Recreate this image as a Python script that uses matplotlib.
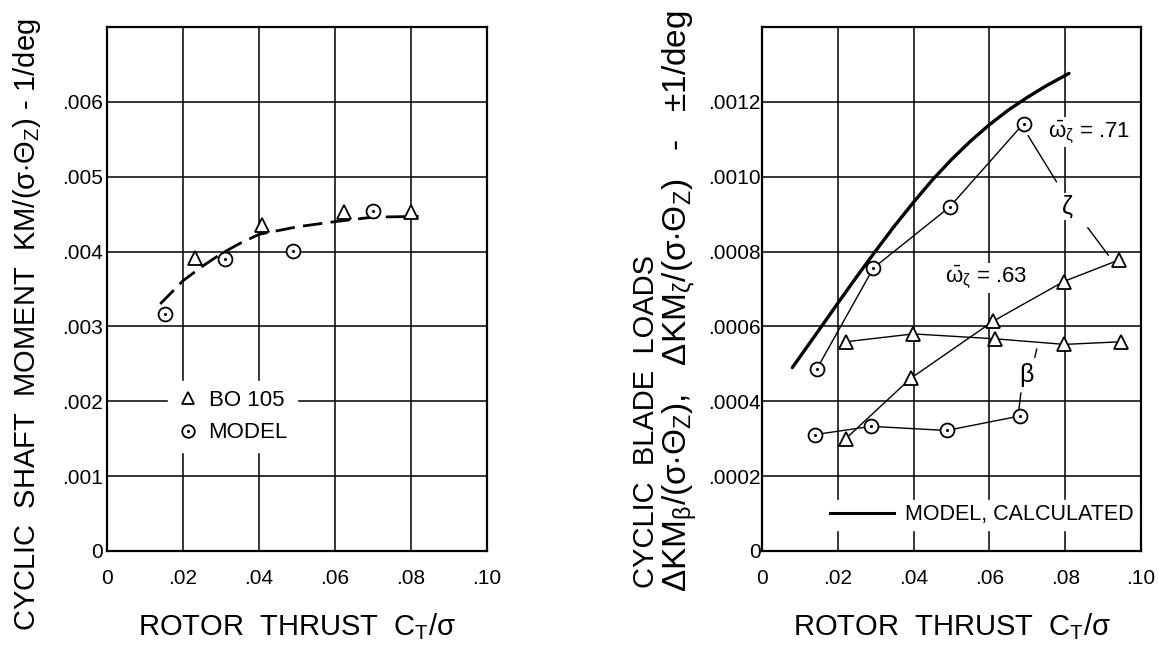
import matplotlib
matplotlib.use('Agg')
import matplotlib.pyplot as plt
from matplotlib.lines import Line2D

plt.rcParams['font.family'] = ['Liberation Sans', 'DejaVu Sans']
plt.rcParams['mathtext.fontset'] = 'custom'
plt.rcParams['mathtext.rm'] = 'Liberation Sans'
plt.rcParams['mathtext.it'] = 'Liberation Sans'
plt.rcParams['mathtext.bf'] = 'Liberation Sans:bold'

# ---- left panel: cyclic shaft moment
bo105_ct = [0.0231, 0.0408, 0.0624, 0.0801]
bo105_km = [0.00392, 0.00436, 0.00453, 0.00453]
model_ct = [0.0153, 0.031, 0.0489, 0.070]
model_km = [0.00317, 0.0039, 0.00401, 0.00454]
fit_ct = [0.014, 0.02, 0.025, 0.03, 0.035, 0.04, 0.05, 0.06, 0.07, 0.082]
fit_km = [0.0033, 0.00361, 0.0038, 0.00397, 0.00411, 0.00423, 0.00433, 0.0044, 0.00446, 0.00447]

# ---- right panel: cyclic blade loads
calc_ct = [0.008, 0.015, 0.02, 0.025, 0.03, 0.035, 0.04, 0.045, 0.05,
           0.055, 0.06, 0.065, 0.07, 0.075, 0.081]
calc_km = [0.00049, 0.00059, 0.000662, 0.000733, 0.000802, 0.000869, 0.000932, 0.000992,
           0.001046, 0.001095, 0.001139, 0.001178, 0.001212, 0.001243, 0.001276]
zeta_model_ct = [0.0145, 0.0294, 0.0496, 0.069]
zeta_model_km = [0.000487, 0.000756, 0.00092, 0.001142]
zeta_bo_ct = [0.0221, 0.0392, 0.061, 0.0796, 0.0943]
zeta_bo_km = [0.0003, 0.000461, 0.000614, 0.00072, 0.000778]
beta_model_ct = [0.014, 0.0288, 0.0487, 0.0682]
beta_model_km = [0.000311, 0.000333, 0.000322, 0.000361]
beta_bo_ct = [0.0221, 0.0399, 0.0614, 0.0798, 0.0947]
beta_bo_km = [0.000559, 0.00058, 0.000567, 0.000552, 0.000559]

x_ticks = [0, 0.02, 0.04, 0.06, 0.08, 0.10]
x_ticklabels = ['0', '.02', '.04', '.06', '.08', '.10']
left_yticks = [0, 0.001, 0.002, 0.003, 0.004, 0.005, 0.006]
left_yticklabels = ['0', '.001', '.002', '.003', '.004', '.005', '.006']
right_yticks = [0, 0.0002, 0.0004, 0.0006, 0.0008, 0.0010, 0.0012]
right_yticklabels = ['0', '.0002', '.0004', '.0006', '.0008', '.0010', '.0012']

TICK_FS = 15
LABEL_FS = 21


def style_axes(ax, ymax, yticks, yticklabels, ypad):
    ax.set_xlim(0, 0.10)
    ax.set_ylim(0, ymax)
    ax.set_xticks(x_ticks)
    ax.set_xticklabels(x_ticklabels)
    ax.set_yticks(yticks)
    ax.set_yticklabels(yticklabels)
    ax.tick_params(axis='x', length=0, pad=13, labelsize=TICK_FS)
    ax.tick_params(axis='y', length=0, pad=ypad, labelsize=TICK_FS)
    ax.grid(True, color='black', linewidth=1.1)
    ax.set_axisbelow(True)
    for sp in ax.spines.values():
        sp.set_linewidth(1.6)
    ax.text(0.5, -0.160, r'ROTOR  THRUST  C$_{\mathrm{T}}$/σ', transform=ax.transAxes,
            ha='center', va='baseline', fontsize=LABEL_FS)


def mark_circles(ax, xs, ys, zorder=4):
    ax.plot(xs, ys, 'o', ms=10, mfc='white', mec='black', mew=1.3, zorder=zorder)
    ax.plot(xs, ys, '.', ms=2.5, color='black', zorder=zorder + 0.1)


def white_legend(leg):
    frame = leg.get_frame()
    frame.set_edgecolor('white')
    frame.set_facecolor('white')
    frame.set_alpha(1)


fig = plt.figure(figsize=(11.59, 6.5), dpi=100)

# left panel
ax1 = fig.add_axes([107 / 1159, 99 / 650, 380 / 1159, 524 / 650])
style_axes(ax1, 0.007, left_yticks, left_yticklabels, 3)
ax1.plot(fit_ct, fit_km, color='black', lw=2.0, dashes=(7, 3), zorder=3)
ax1.plot(bo105_ct, bo105_km, '^', ms=10, mfc='white', mec='black', mew=1.3, zorder=4)
mark_circles(ax1, model_ct, model_km)

tri_handle = Line2D([], [], marker='^', ls='none', ms=9, mfc='white', mec='black', mew=1.3)
circ_handle = (Line2D([], [], marker='o', ls='none', ms=9, mfc='white', mec='black', mew=1.3),
               Line2D([], [], marker='.', ls='none', ms=2.5, color='black'))
leg = ax1.legend([tri_handle, circ_handle], ['BO 105', 'MODEL'], loc='upper left',
                 bbox_to_anchor=(0.13, 0.345), fontsize=16, frameon=True, fancybox=False,
                 handlelength=1.0, handletextpad=0.45, labelspacing=0.5, borderpad=0.4)
white_legend(leg)

fig.text(27 / 1159, 0.5, r'CYCLIC  SHAFT  MOMENT  KM/(σ$\cdot\Theta_{\mathrm{Z}}$) - 1/deg',
         rotation=90, ha='center', va='center', fontsize=LABEL_FS)

# right panel
ax2 = fig.add_axes([762 / 1159, 99 / 650, 379 / 1159, 524 / 650])
style_axes(ax2, 0.0014, right_yticks, right_yticklabels, 1)
ax2.plot(calc_ct, calc_km, color='black', lw=2.4, zorder=3, solid_capstyle='round')

ax2.plot(zeta_model_ct, zeta_model_km, color='black', lw=1.0, zorder=3)
mark_circles(ax2, zeta_model_ct, zeta_model_km)
ax2.plot(zeta_bo_ct, zeta_bo_km, color='black', lw=1.0, zorder=3)
ax2.plot(zeta_bo_ct, zeta_bo_km, '^', ms=10, mfc='white', mec='black', mew=1.3, zorder=4)
ax2.plot(beta_model_ct, beta_model_km, color='black', lw=1.0, zorder=3)
mark_circles(ax2, beta_model_ct, beta_model_km)
ax2.plot(beta_bo_ct, beta_bo_km, color='black', lw=1.0, zorder=3)
ax2.plot(beta_bo_ct, beta_bo_km, '^', ms=10, mfc='white', mec='black', mew=1.3, zorder=4)

white_box = dict(facecolor='white', edgecolor='none', pad=1)
ax2.text(0.0864, 0.00112, r'$\bar{\omega}_{\zeta}$ = .71', ha='center', va='center',
         fontsize=16, bbox=white_box, zorder=3)
ax2.text(0.0592, 0.00073, r'$\bar{\omega}_{\zeta}$ = .63', ha='center', va='center',
         fontsize=16, bbox=white_box, zorder=3)

# leader lines for zeta and beta
leader = dict(arrowstyle='-', color='black', lw=1.0, shrinkA=2, shrinkB=0)
ax2.text(0.0805, 0.00092, 'ζ', ha='center', va='center', fontsize=18, bbox=white_box, zorder=3)
ax2.annotate('', xy=(0.0702, 0.00111), xytext=(0.0781, 0.00098), arrowprops=leader)
ax2.annotate('', xy=(0.0914, 0.00079), xytext=(0.0855, 0.00087), arrowprops=leader)
ax2.text(0.0697, 0.00047, 'β', ha='center', va='center', fontsize=18, bbox=white_box, zorder=3)
ax2.annotate('', xy=(0.0725, 0.00054), xytext=(0.0718, 0.00051), arrowprops=leader)
ax2.annotate('', xy=(0.0678, 0.00038), xytext=(0.0684, 0.00043), arrowprops=leader)

leg2 = ax2.legend([Line2D([], [], color='black', lw=2.2)], ['MODEL, CALCULATED'],
                  loc='lower right', bbox_to_anchor=(1.02, 0.02), fontsize=15.5,
                  frameon=True, fancybox=False, handlelength=3.0, handletextpad=0.5,
                  borderpad=0.2)
white_legend(leg2)

fig.text(646 / 1159, 0.095, 'CYCLIC  BLADE  LOADS', rotation=90, ha='center', va='bottom',
         fontsize=LABEL_FS)
fig.text(680 / 1159, 0.09,
         r'ΔKM$_{\beta}$/(σ$\cdot\Theta_{\mathrm{Z}}$),   ΔKM$_{\zeta}$/(σ$\cdot\Theta_{\mathrm{Z}}$)   -   ±1/deg',
         rotation=90, ha='center', va='bottom', fontsize=24)

fig.savefig('out.png', dpi=100)
